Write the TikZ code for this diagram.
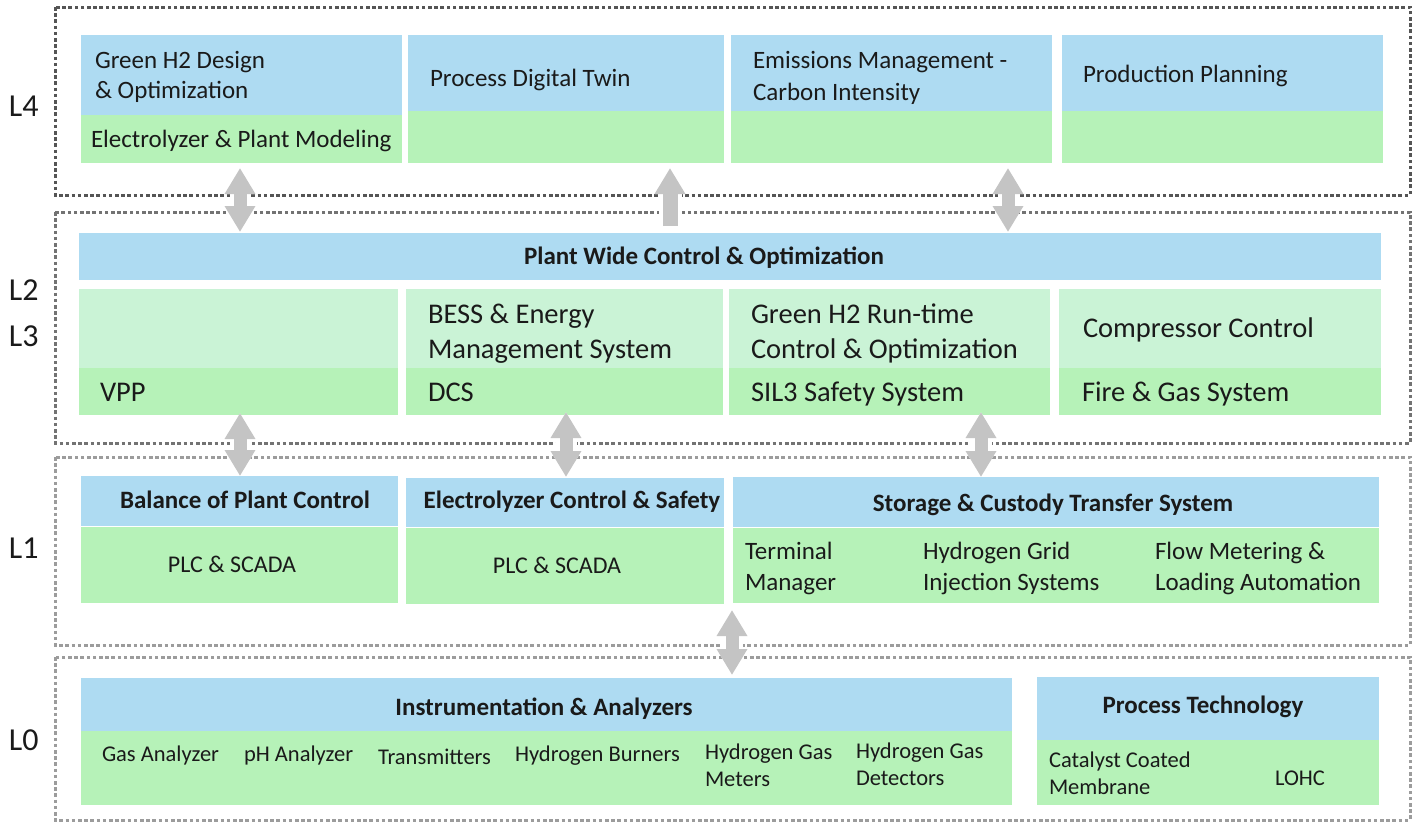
\documentclass[tikz,border=0pt]{standalone}
\usepackage{fontspec}
\setmainfont{Carlito}
\usetikzlibrary{arrows.meta,fit,calc}
\definecolor{hblue}{HTML}{AEDBF2}
\definecolor{hgreen}{HTML}{B6F2B8}
\definecolor{lgreen}{HTML}{CAF3D6}
\definecolor{agray}{HTML}{C4C4C4}
\definecolor{txtc}{HTML}{1A1A1A}
\definecolor{fdark}{HTML}{555555}
\definecolor{fmid}{HTML}{737373}
\definecolor{flight}{HTML}{9C9C9C}
\begin{document}
\begin{tikzpicture}[x=1pt,y=-1pt,
  bx/.style={inner sep=0pt,outer sep=0pt,draw=none},
  frame/.style={line width=3pt,dash pattern=on 3.6pt off 2.6pt},
  txt/.style={inner sep=0pt,outer sep=0pt,text=txtc,anchor=base west},
  ctxt/.style={inner sep=0pt,outer sep=0pt,text=txtc,anchor=base},
  fa/.style={font=\fontsize{25}{30}\selectfont},
  fb/.style={font=\fontsize{28.5}{34}\selectfont},
  fc/.style={font=\fontsize{24}{29}\selectfont},
  fd/.style={font=\fontsize{22.5}{27}\selectfont},
  fh/.style={font=\bfseries\fontsize{25}{30}\selectfont},
  fl/.style={font=\fontsize{32}{38}\selectfont},
  dbl/.style={draw=agray,line width=13pt,
    preaction={draw=white,line width=21pt},
    {Triangle[width=29pt,length=26pt]}-{Triangle[width=29pt,length=26pt]}},
  sgl/.style={draw=agray,line width=15pt,
    preaction={draw=white,line width=23pt},
    -{Triangle[width=29pt,length=26pt]}}
]
\useasboundingbox (0,0) rectangle (1417,823);
% frames
\draw[frame,draw=fdark] (55,7) rectangle (1410,195);
\draw[frame,draw=fmid] (55,212) rectangle (1410,443);
\draw[frame,draw=flight] (55,457) rectangle (1410,645);
\draw[frame,draw=flight] (55,657) rectangle (1410,820);
% level labels
\node[txt,fl] (L4) at (9,116) {L4};
\node[txt,fl] (L2) at (9,300) {L2};
\node[txt,fl] (L3) at (9,346) {L3};
\node[txt,fl] (L1) at (9,558) {L1};
\node[txt,fl] (L0) at (9,750) {L0};
% L4 boxes
\node[bx,fill=hblue,fit={(81,35) (402,115)}] (l4b1) {};
\node[bx,fill=hgreen,fit={(81,115) (402,163)}] (l4g1) {};
\node[bx,fill=hblue,fit={(408,35) (724,111)}] (l4b2) {};
\node[bx,fill=hgreen,fit={(408,111) (724,163)}] (l4g2) {};
\node[bx,fill=hblue,fit={(731,35) (1052,111)}] (l4b3) {};
\node[bx,fill=hgreen,fit={(731,111) (1052,163)}] (l4g3) {};
\node[bx,fill=hblue,fit={(1062,35) (1383,111)}] (l4b4) {};
\node[bx,fill=hgreen,fit={(1062,111) (1383,163)}] (l4g4) {};
\node[txt,fa] (t4a) at (95,68) {Green H2 Design};
\node[txt,fa] (t4b) at (95,98) {\& Optimization};
\node[txt,fa] (t4c) at (91,147) {Electrolyzer \& Plant Modeling};
\node[txt,fa] (t4d) at (430,86) {Process Digital Twin};
\node[txt,fa] (t4e) at (753,68) {Emissions Management -};
\node[txt,fa] (t4f) at (753,100) {Carbon Intensity};
\node[txt,fa] (t4g) at (1083,82) {Production Planning};
% L2/L3
\node[bx,fill=hblue,fit={(79,233) (1381,280)}] (pw) {};
\node[ctxt,fh] (tpw) at (704,264) {Plant Wide Control \& Optimization};
\node[bx,fill=lgreen,fit={(79,289) (398,368)}] (c1t) {};
\node[bx,fill=hgreen,fit={(79,368) (398,415)}] (c1b) {};
\node[bx,fill=lgreen,fit={(406,289) (723,368)}] (c2t) {};
\node[bx,fill=hgreen,fit={(406,368) (723,415)}] (c2b) {};
\node[bx,fill=lgreen,fit={(729,289) (1050,368)}] (c3t) {};
\node[bx,fill=hgreen,fit={(729,368) (1050,415)}] (c3b) {};
\node[bx,fill=lgreen,fit={(1059,289) (1381,368)}] (c4t) {};
\node[bx,fill=hgreen,fit={(1059,368) (1381,415)}] (c4b) {};
\node[txt,fb] (t3a) at (428,323) {BESS \& Energy};
\node[txt,fb] (t3b) at (428,358) {Management System};
\node[txt,fb] (t3c) at (751,323) {Green H2 Run-time};
\node[txt,fb] (t3d) at (751,358) {Control \& Optimization};
\node[txt,fb] (t3e) at (1083,337) {Compressor Control};
\node[txt,fb] (t3f) at (100,401) {VPP};
\node[txt,fb] (t3g) at (428,401) {DCS};
\node[txt,fb] (t3h) at (751,401) {SIL3 Safety System};
\node[txt,fb] (t3i) at (1082,401) {Fire \& Gas System};
% L1
\node[bx,fill=hblue,fit={(81,476) (398,526)}] (bpc) {};
\node[bx,fill=hgreen,fit={(81,527) (398,603)}] (bpcb) {};
\node[bx,fill=hblue,fit={(406,478) (724,527)}] (ecs) {};
\node[bx,fill=hgreen,fit={(406,528) (724,604)}] (ecsb) {};
\node[bx,fill=hblue,fit={(733,477) (1379,527)}] (sct) {};
\node[bx,fill=hgreen,fit={(733,528) (1379,603)}] (sctb) {};
\node[ctxt,fh] (t1a) at (245,508) {Balance of Plant Control};
\node[ctxt,fc] (t1b) at (232,572) {PLC \& SCADA};
\node[ctxt,fh] (t1c) at (572,508) {Electrolyzer Control \& Safety};
\node[ctxt,fc] (t1d) at (557,573) {PLC \& SCADA};
\node[ctxt,fh] (t1e) at (1053,511) {Storage \& Custody Transfer System};
\node[txt,fa] (t1f) at (745,559) {Terminal};
\node[txt,fa] (t1g) at (745,590) {Manager};
\node[txt,fa] (t1h) at (923,559) {Hydrogen Grid};
\node[txt,fa] (t1i) at (923,590) {Injection Systems};
\node[txt,fa] (t1j) at (1155,559) {Flow Metering \&};
\node[txt,fa] (t1k) at (1155,590) {Loading Automation};
% L0
\node[bx,fill=hblue,fit={(81,678) (1012,731)}] (ia) {};
\node[bx,fill=hgreen,fit={(81,731) (1012,805)}] (iab) {};
\node[bx,fill=hblue,fit={(1037,677) (1379,740)}] (pt) {};
\node[bx,fill=hgreen,fit={(1037,740) (1379,805)}] (ptb) {};
\node[ctxt,fh] (t0a) at (544,715) {Instrumentation \& Analyzers};
\node[ctxt,fh] (t0b) at (1203,713) {Process Technology};
\node[txt,fd] (t0c) at (102,761) {Gas Analyzer};
\node[txt,fd] (t0d) at (244,761) {pH Analyzer};
\node[txt,fd] (t0e) at (378,764) {Transmitters};
\node[txt,fd] (t0f) at (515,761) {Hydrogen Burners};
\node[txt,fd] (t0g) at (705,759) {Hydrogen Gas};
\node[txt,fd] (t0h) at (705,786) {Meters};
\node[txt,fd] (t0i) at (856,758) {Hydrogen Gas};
\node[txt,fd] (t0j) at (856,785) {Detectors};
\node[txt,fd] (t0k) at (1049,767) {Catalyst Coated};
\node[txt,fd] (t0l) at (1049,794) {Membrane};
\node[ctxt,fd] (t0m) at (1300,785) {LOHC};
% arrows
\coordinate (xA) at (240,0);
\coordinate (xB) at (670,0);
\coordinate (xC) at (1008,0);
\coordinate (xE) at (566,0);
\coordinate (xF) at (981,0);
\coordinate (xG) at (732,0);
\draw[dbl] ([yshift=-5pt]l4g1.south -| xA) -- ([yshift=1pt]pw.north -| xA);
\draw[sgl] ([yshift=7pt]pw.north -| xB) -- ([yshift=-5pt]l4g2.south -| xB);
\draw[dbl] ([yshift=-5pt]l4g3.south -| xC) -- ([yshift=1pt]pw.north -| xC);
\draw[dbl] ([yshift=2pt]c1b.south -| xA) -- ([yshift=0pt]bpc.north -| xA);
\draw[dbl] ([yshift=3pt]c2b.south -| xE) -- ([yshift=1pt]ecs.north -| xE);
\draw[dbl] ([yshift=3pt]c3b.south -| xF) -- ([yshift=0pt]sct.north -| xF);
\draw[dbl] ([yshift=-7pt]sctb.south -| xG) -- ([yshift=3pt]ia.north -| xG);
\end{tikzpicture}
\end{document}
